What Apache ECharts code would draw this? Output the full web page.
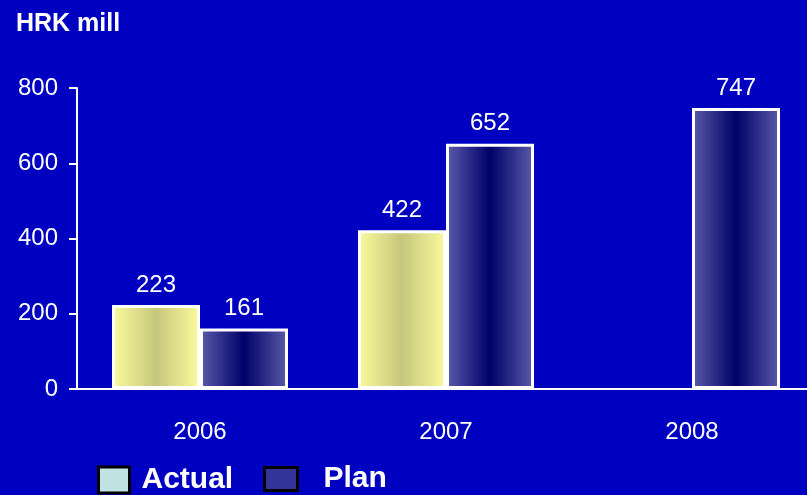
<!DOCTYPE html>
<html>
<head>
<meta charset="utf-8">
<script src="https://cdn.jsdelivr.net/npm/echarts@6/dist/echarts.min.js"></script>
<style>
  html, body { margin: 0; padding: 0; background: #0000C0; }
  #chart { width: 807px; height: 495px; }
</style>
</head>
<body>
<div id="chart"></div>
<script>
// Investment figures, HRK million
const years = ['2006', '2007', '2008'];
const actualValues = [223, 422, null];
const planValues = [161, 652, 747];
const yTicks = { min: 0, max: 800, step: 200 };

const FONT = 'Arial, "Liberation Sans", sans-serif';

function barGradient(edge, middle) {
  return new echarts.graphic.LinearGradient(0, 0, 1, 0, [
    { offset: 0, color: edge },
    { offset: 0.5, color: middle },
    { offset: 1, color: edge }
  ]);
}

const chart = echarts.init(document.getElementById('chart'), null, { renderer: 'canvas' });

const barStyle = (fill) => ({
  color: fill,
  borderColor: '#FFFFFF',
  borderWidth: 3
});

const valueLabel = {
  show: true,
  position: 'top',
  distance: 8,
  color: '#FFFFFF',
  fontSize: 24,
  fontFamily: FONT
};

chart.setOption({
  backgroundColor: '#0000C0',
  animation: false,
  title: {
    text: 'HRK mill',
    left: 11,
    top: 7,
    textStyle: { color: '#FFFFFF', fontSize: 25, fontWeight: 'bold', fontFamily: FONT }
  },
  legend: [
    {
      data: [{ name: 'Actual', itemStyle: { color: '#BFE3E3', borderColor: '#000000', borderWidth: 3 } }],
      left: 97,
      top: 465,
      padding: 0,
      icon: 'rect',
      itemWidth: 31,
      itemHeight: 26,
      textStyle: { color: '#FFFFFF', fontSize: 30, fontWeight: 'bold', fontFamily: FONT, padding: [7, 0, 0, 7] }
    },
    {
      data: [{ name: 'Plan', itemStyle: { color: '#333399', borderColor: '#000000', borderWidth: 3 } }],
      left: 263,
      top: 464,
      padding: 0,
      icon: 'rect',
      itemWidth: 33,
      itemHeight: 23,
      textStyle: { color: '#FFFFFF', fontSize: 30, fontWeight: 'bold', fontFamily: FONT, padding: [0, 0, 7, 21] }
    }
  ],
  grid: { left: 77, top: 88, width: 738, height: 301, containLabel: false, outerBoundsMode: 'none' },
  xAxis: {
    type: 'category',
    data: years,
    axisLine: { show: true, lineStyle: { color: '#FFFFFF', width: 2 } },
    axisTick: { show: false },
    axisLabel: { color: '#FFFFFF', fontSize: 24, fontFamily: FONT, margin: 31 }
  },
  yAxis: {
    type: 'value',
    min: yTicks.min,
    max: yTicks.max,
    interval: yTicks.step,
    splitLine: { show: false },
    axisLine: { show: true, lineStyle: { color: '#FFFFFF', width: 2 } },
    axisTick: { show: true, inside: false, length: 8, lineStyle: { color: '#FFFFFF', width: 2 } },
    axisLabel: { color: '#FFFFFF', fontSize: 24, fontFamily: FONT, margin: 19, padding: [5, 0, 0, 0] }
  },
  series: [
    {
      name: 'Actual',
      type: 'bar',
      data: actualValues,
      barWidth: 88,
      barGap: '0%',
      itemStyle: barStyle(barGradient('#FBFB9C', '#C6C67C')),
      label: valueLabel
    },
    {
      name: 'Plan',
      type: 'bar',
      data: planValues,
      barWidth: 88,
      barGap: '0%',
      itemStyle: barStyle(barGradient('#5C5CAA', '#000068')),
      label: valueLabel
    }
  ]
});
</script>
</body>
</html>
